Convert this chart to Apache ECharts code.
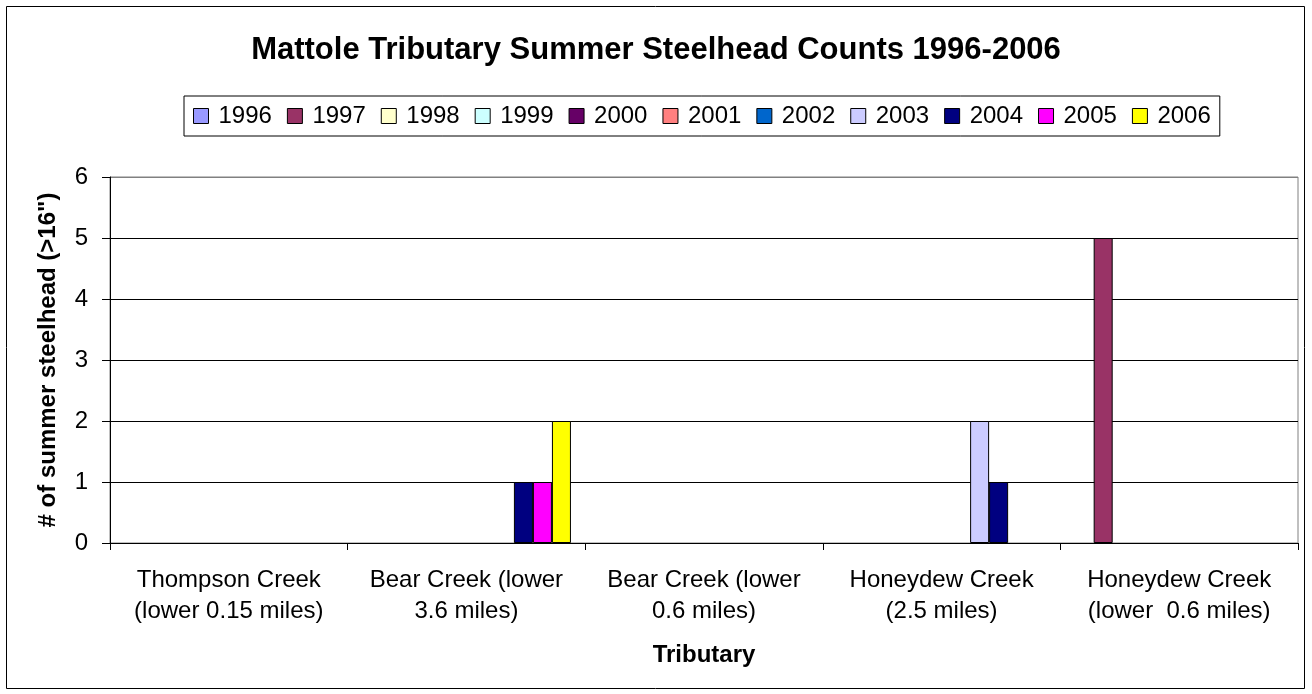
<!DOCTYPE html>
<html>
<head>
<meta charset="utf-8">
<script src="https://cdn.jsdelivr.net/npm/echarts@6/dist/echarts.min.js"></script>
<style>
  html, body { margin: 0; padding: 0; background: #fff; }
  #chart { width: 1312px; height: 694px; }
</style>
</head>
<body>
<div id="chart"></div>
<script>
  var tributaries = [
    'Thompson Creek\n(lower 0.15 miles)',
    'Bear Creek (lower\n3.6 miles)',
    'Bear Creek (lower\n0.6 miles)',
    'Honeydew Creek\n(2.5 miles)',
    'Honeydew Creek\n(lower  0.6 miles)'
  ];

  var years = ['1996', '1997', '1998', '1999', '2000', '2001', '2002', '2003', '2004', '2005', '2006'];

  var counts1996 = [0, 0, 0, 0, 0];
  var counts1997 = [0, 0, 0, 0, 5];
  var counts1998 = [0, 0, 0, 0, 0];
  var counts1999 = [0, 0, 0, 0, 0];
  var counts2000 = [0, 0, 0, 0, 0];
  var counts2001 = [0, 0, 0, 0, 0];
  var counts2002 = [0, 0, 0, 0, 0];
  var counts2003 = [0, 0, 0, 2, 0];
  var counts2004 = [0, 1, 0, 1, 0];
  var counts2005 = [0, 1, 0, 0, 0];
  var counts2006 = [0, 2, 0, 0, 0];

  var yTicks = [0, 1, 2, 3, 4, 5, 6];

  var allCounts = [counts1996, counts1997, counts1998, counts1999, counts2000, counts2001,
    counts2002, counts2003, counts2004, counts2005, counts2006];

  var colors = ['#9999FF', '#993366', '#FFFFCC', '#CCFFFF', '#660066', '#FF8080',
    '#0066CC', '#CCCCFF', '#000080', '#FF00FF', '#FFFF00'];

  var font = '"Liberation Sans", Arial, sans-serif';

  // zero counts draw nothing (like Excel), so skip them instead of drawing a flat outline
  var series = years.map(function (y, i) {
    return {
      name: y,
      type: 'bar',
      data: allCounts[i].map(function (v) { return v === 0 ? '-' : v; }),
      barGap: '0%',
      barCategoryGap: '12%',
      itemStyle: { color: colors[i], borderColor: '#000', borderWidth: 1 }
    };
  });

  var option = {
    animation: false,
    color: colors,
    title: {
      text: 'Mattole Tributary Summer Steelhead Counts 1996-2006',
      left: 'center',
      top: 30,
      textStyle: { fontFamily: font, fontSize: 31, fontWeight: 'bold', color: '#000' }
    },
    legend: {
      data: years,
      left: 184,
      top: 96,
      padding: [8, 9, 8, 9],
      borderColor: '#000',
      borderWidth: 1,
      itemWidth: 15,
      itemHeight: 15,
      itemGap: 15,
      icon: 'rect',
      itemStyle: { borderColor: '#000', borderWidth: 1 },
      textStyle: { fontFamily: font, fontSize: 24, color: '#000', padding: [0, 0, 0, 5] }
    },
    grid: {
      left: 110,
      right: 14,
      top: 177,
      bottom: 151,
      show: true,
      borderColor: '#808080',
      borderWidth: 1
    },
    xAxis: {
      type: 'category',
      data: tributaries,
      name: 'Tributary',
      nameLocation: 'middle',
      nameGap: 100,
      nameTextStyle: { fontFamily: font, fontSize: 24, fontWeight: 'bold', color: '#000' },
      axisLine: { lineStyle: { color: '#000', width: 1 } },
      axisTick: { show: true, length: 7, lineStyle: { color: '#000' } },
      axisLabel: {
        fontFamily: font, fontSize: 24, color: '#000', lineHeight: 31, margin: 22, interval: 0
      }
    },
    yAxis: {
      type: 'value',
      min: yTicks[0],
      max: yTicks[yTicks.length - 1],
      interval: 1,
      name: '# of summer steelhead (>16")',
      nameLocation: 'middle',
      nameGap: 50,
      nameTextStyle: { fontFamily: font, fontSize: 24, fontWeight: 'bold', color: '#000' },
      axisLine: { show: true, lineStyle: { color: '#000', width: 1 } },
      axisTick: { show: true, length: 8, lineStyle: { color: '#000' } },
      axisLabel: { fontFamily: font, fontSize: 24, color: '#000', margin: 22 },
      splitLine: {
        lineStyle: { color: ['#000', '#000', '#000', '#000', '#000', '#000', '#808080'], width: 1 }
      }
    },
    graphic: [{
      type: 'rect',
      shape: { x: 6.5, y: 6.5, width: 1298, height: 682 },
      style: { fill: 'none', stroke: '#000', lineWidth: 1 },
      silent: true
    }],
    series: series
  };

  var myChart = echarts.init(document.getElementById('chart'));
  myChart.setOption(option);
</script>
</body>
</html>
